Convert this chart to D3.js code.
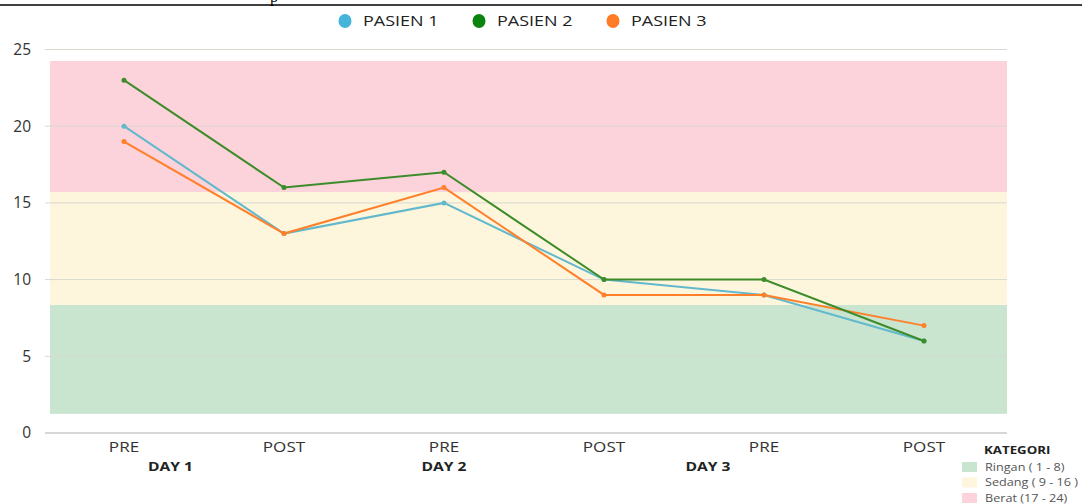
<!DOCTYPE html>
<meta charset="utf-8">
<style>
    body { margin: 0; background: #fff; }
    svg { font-family: "Open Sans", sans-serif; }
</style>
<body>
<script src="https://d3js.org/d3.v7.min.js"></script>
<script>
    const width = 1082, height = 504;

    // data
    const phases = ["PRE", "POST", "PRE", "POST", "PRE", "POST"];
    const pasien1 = [20, 13, 15, 10, 9, 6];
    const pasien2 = [23, 16, 17, 10, 10, 6];
    const pasien3 = [19, 13, 16, 9, 9, 7];
    const seriesNames = ["PASIEN 1", "PASIEN 2", "PASIEN 3"];
    const yTicks = [0, 5, 10, 15, 20, 25];
    const days = ["DAY 1", "DAY 2", "DAY 3"];
    const dayPos = [0.29, 2.0, 3.65];   // in category index units
    const bandNames = ["Ringan ( 1 - 8)", "Sedang ( 9 - 16 )", "Berat (17 - 24)"];
    const bandLo = [1.25, 8.35, 15.7];
    const bandHi = [8.35, 15.7, 24.25];

    const legendColor = ["#45b5dc", "#0a840f", "#ff7b26"];
    const lineColor = ["#62b8cc", "#3c8c2a", "#ff7f2a"];
    const bandColor = ["#c9e5cf", "#fef6dc", "#fcd3da"];

    const svg = d3.select("body").append("svg")
        .attr("width", width)
        .attr("height", height);

    // the source picture is a bit stretched sideways, so texts get a scaleX
    function stretch(px, py, sx) {
        return "translate(" + px + "," + py + ") scale(" + sx + ",1)";
    }

    const x = d3.scalePoint()
        .domain(d3.range(phases.length))
        .range([44, 1004])
        .padding(0.5);
    const xi = d3.scaleLinear()
        .domain([0, phases.length - 1])
        .range([x(0), x(phases.length - 1)]);
    const y = d3.scaleLinear().domain([0, 25]).range([433, 49.5]);

    // top rule from the page
    svg.append("line")
        .attr("x1", 0).attr("x2", width)
        .attr("y1", 5).attr("y2", 5)
        .attr("stroke", "#000").attr("stroke-width", 1.5);
    svg.append("text")
        .attr("x", 270).attr("y", 2)
        .style("font-family", "Liberation Serif, serif")
        .style("font-size", "16px")
        .text("p");

    // category bands
    svg.append("g").selectAll("rect")
        .data(bandNames)
        .enter().append("rect")
        .attr("x", 50)
        .attr("width", 957)
        .attr("y", (d, i) => y(bandHi[i]))
        .attr("height", (d, i) => y(bandLo[i]) - y(bandHi[i]))
        .attr("fill", (d, i) => bandColor[i]);

    // grid
    svg.append("g").selectAll("line")
        .data(yTicks.slice(1))
        .enter().append("line")
        .attr("x1", 45).attr("x2", 1007)
        .attr("y1", d => y(d)).attr("y2", d => y(d))
        .attr("stroke", "#d8d8d0").attr("stroke-width", 1);

    svg.append("line")
        .attr("x1", 45).attr("x2", 1007)
        .attr("y1", y(0)).attr("y2", y(0))
        .attr("stroke", "#b0b0b0").attr("stroke-width", 1.2);

    // y labels
    svg.append("g").selectAll("text")
        .data(yTicks)
        .enter().append("text")
        .attr("x", 31)
        .attr("y", d => y(d))
        .attr("dy", "0.35em")
        .attr("text-anchor", "end")
        .style("font-size", "15.5px")
        .style("fill", "#333")
        .text(d => d);

    // x labels
    svg.append("g").selectAll("text")
        .data(phases)
        .enter().append("text")
        .attr("transform", (d, i) => stretch(x(i), 452, 1.22))
        .attr("text-anchor", "middle")
        .style("font-size", "14px")
        .style("fill", "#333")
        .text(d => d);

    svg.append("g").selectAll("text")
        .data(days)
        .enter().append("text")
        .attr("transform", (d, i) => stretch(xi(dayPos[i]), 471, 1.3))
        .attr("text-anchor", "middle")
        .style("font-size", "12px")
        .style("font-weight", "bold")
        .style("fill", "#222")
        .text(d => d);

    // lines
    const series = [pasien1, pasien2, pasien3];
    const line = d3.line()
        .x((d, i) => x(i))
        .y(d => y(d));

    const drawOrder = [0, 2, 1];
    drawOrder.forEach(s => {
        svg.append("path")
            .datum(series[s])
            .attr("d", line)
            .attr("fill", "none")
            .attr("stroke", lineColor[s])
            .attr("stroke-width", 2);
        svg.append("g").selectAll("circle")
            .data(series[s])
            .enter().append("circle")
            .attr("cx", (d, i) => x(i))
            .attr("cy", d => y(d))
            .attr("r", 2.5)
            .attr("fill", lineColor[s]);
    });

    // top legend
    const legendX = [345, 479, 613];
    const legend = svg.append("g").selectAll("g")
        .data(seriesNames)
        .enter().append("g")
        .attr("transform", (d, i) => "translate(" + legendX[i] + ",21)");
    legend.append("ellipse")
        .attr("rx", 6.5).attr("ry", 7)
        .attr("fill", (d, i) => legendColor[i]);
    legend.append("text")
        .attr("transform", stretch(18, 0, 1.2))
        .attr("dy", "0.35em")
        .style("font-size", "15px")
        .style("fill", "#222")
        .text(d => d);

    // category legend
    svg.append("text")
        .attr("transform", stretch(984, 454, 1.33))
        .style("font-size", "10px")
        .style("font-weight", "bold")
        .style("fill", "#222")
        .text("KATEGORI");

    const cat = svg.append("g").selectAll("g")
        .data(bandNames)
        .enter().append("g")
        .attr("transform", (d, i) => "translate(962," + (467 + i * 15.5) + ")");
    cat.append("rect")
        .attr("y", -5)
        .attr("width", 15).attr("height", 10)
        .attr("fill", (d, i) => bandColor[i]);
    cat.append("text")
        .attr("transform", stretch(23, 0, 1.15))
        .attr("dy", "0.35em")
        .style("font-size", "11px")
        .style("fill", "#555")
        .text(d => d);
</script>
</body>
</html>
